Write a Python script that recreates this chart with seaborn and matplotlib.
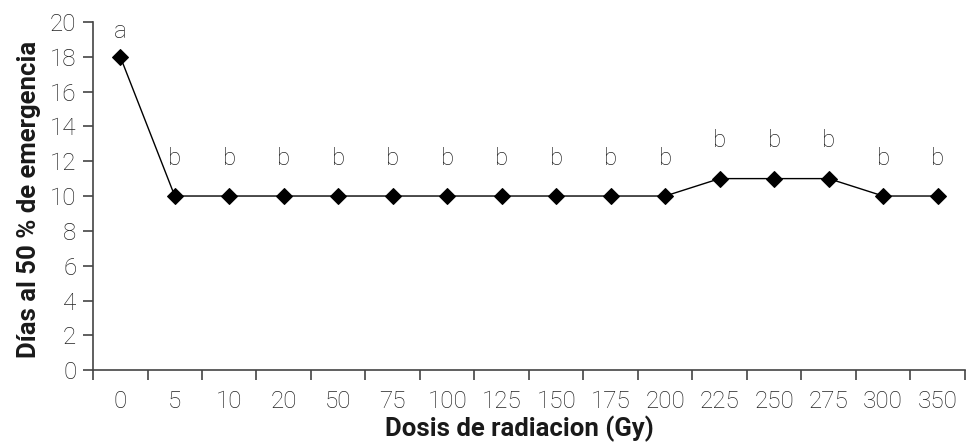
import matplotlib.pyplot as plt
import pandas as pd
import seaborn as sns

# Data
dosis = ["0", "5", "10", "20", "50", "75", "100", "125", "150", "175",
         "200", "225", "250", "275", "300", "350"]
dias = [18, 10, 10, 10, 10, 10, 10, 10, 10, 10, 10, 11, 11, 11, 10, 10]
letras = ["a", "b", "b", "b", "b", "b", "b", "b", "b", "b", "b", "b", "b", "b", "b", "b"]

df = pd.DataFrame({"dosis": dosis, "dias": dias})

sns.set_style("white")
plt.rcParams["font.family"] = ["Roboto", "DejaVu Sans"]

gris = "#444444"
texto = "#222222"

fig = plt.figure(figsize=(9.72, 4.46), dpi=100)
ax = fig.add_axes([0.0957, 0.170, 0.897, 0.781])

sns.pointplot(data=df, x="dosis", y="dias", order=dosis, color="black",
              markers="D", linewidth=1, markersize=8.5, ax=ax)

# letters of significance above each point
for i, (v, l) in enumerate(zip(dias, letras)):
    ax.text(i, min(v + 1.8, 19.1), l, ha="center", va="baseline",
            fontsize=17.5, fontweight="light", color=texto)

ax.set_ylim(0, 20)
ax.set_xlim(-0.5, len(dosis) - 0.5)
ax.set_yticks(range(0, 21, 2))

# category labels at centres, ticks at the boundaries
ax.set_xticks([i - 0.5 for i in range(len(dosis) + 1)])
ax.set_xticklabels([])
ax.set_xticks(range(len(dosis)), minor=True)
ax.set_xticklabels(dosis, minor=True)
ax.tick_params(axis="x", which="major", direction="out", length=7,
               width=1.2, color=gris, bottom=True)
ax.tick_params(axis="x", which="minor", length=0, pad=14,
               labelsize=17.5, labelcolor=texto)
ax.tick_params(axis="y", direction="out", length=7, width=1.2, color=gris,
               left=True, labelsize=17.5, labelcolor=texto, pad=5)
for t in ax.get_xticklabels(minor=True) + ax.get_yticklabels():
    t.set_fontweight("light")

for side in ["top", "right"]:
    ax.spines[side].set_visible(False)
for side in ["left", "bottom"]:
    ax.spines[side].set_color(gris)
    ax.spines[side].set_linewidth(1.2)

ax.set_xlabel("Dosis de radiacion (Gy)", fontsize=18.5, fontweight="bold",
              color="#1a1a1a", labelpad=2, x=0.489)
ax.set_ylabel("Días al 50 % de emergencia", fontsize=18.5, fontweight="bold",
              color="#1a1a1a", labelpad=6, y=0.49)

fig.savefig("out.png", dpi=100)
